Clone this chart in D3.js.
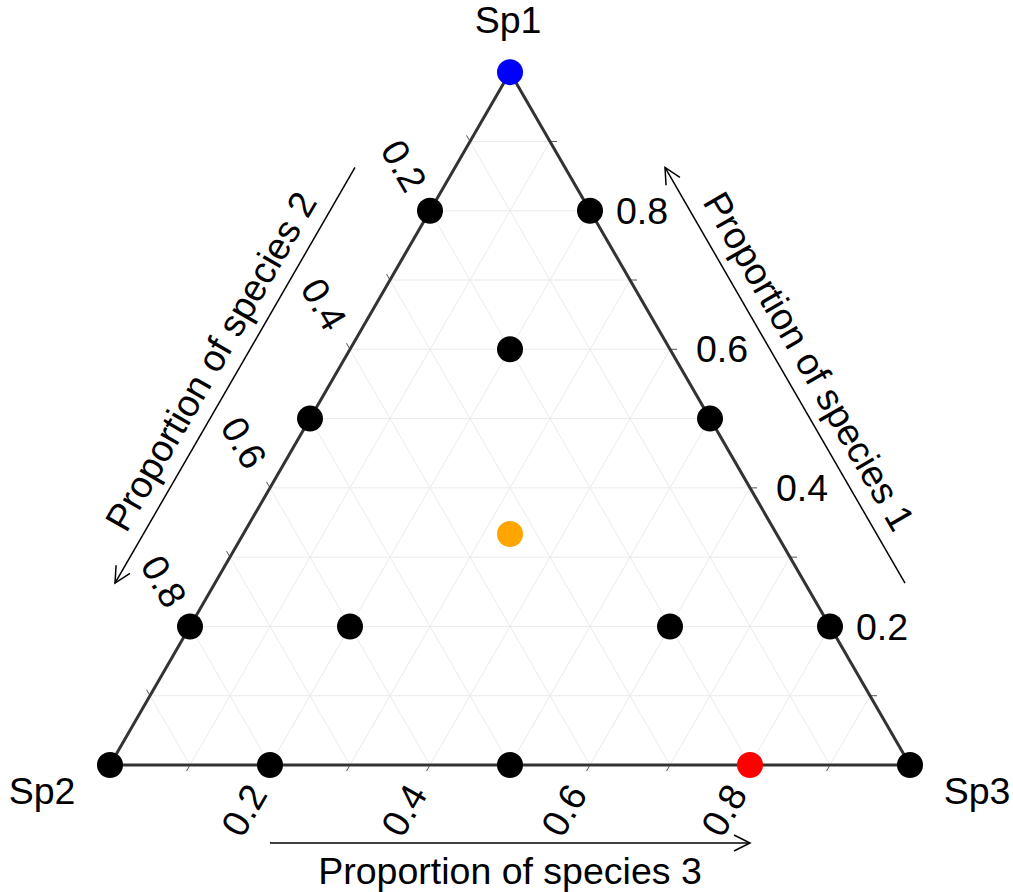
<!DOCTYPE html>
<html>
<head>
<meta charset="utf-8">
<script src="https://cdn.jsdelivr.net/npm/d3@7"></script>
<style>
  body { margin: 0; background: #fff; }
  text { font-family: "Liberation Sans", Arial, sans-serif; fill: #000; }
</style>
</head>
<body>
<svg id="chart" width="1013" height="892"></svg>
<script>
// compositions of each point (proportion of species 1, 2, 3)
var sp1 = [1, 0, 0, 0.8, 0.8, 0.6, 0.5, 0.5, 1/3, 0.2, 0.2, 0.2, 0.2, 0, 0, 0];
var sp2 = [0, 1, 0, 0.2, 0, 0.2, 0.5, 0, 1/3, 0.8, 0.6, 0.2, 0, 0.8, 0.5, 0.2];
var sp3 = [0, 0, 1, 0, 0.2, 0.2, 0, 0.5, 1/3, 0, 0.2, 0.6, 0.8, 0.2, 0.5, 0.8];
var pointColors = ["blue", "black", "black", "black", "black", "black", "black", "black",
  "orange", "black", "black", "black", "black", "black", "black", "red"];

var vertexLabels = ["Sp1", "Sp2", "Sp3"];
var axisTitles = ["Proportion of species 1", "Proportion of species 2", "Proportion of species 3"];
var gridValues = [0.1, 0.2, 0.3, 0.4, 0.5, 0.6, 0.7, 0.8, 0.9];
var tickLabels = [0.2, 0.4, 0.6, 0.8];

var svg = d3.select("#chart");

// cartesian x = p3 + p1/2, y = p1 (scaled so triangle is equilateral)
var x = d3.scaleLinear().domain([0, 1]).range([110, 910]);
var y = d3.scaleLinear().domain([0, 1]).range([765, 765 - 800 * Math.sqrt(3) / 2]);

function pt(a, b, c) {
  return [x(c + a / 2), y(a)];
}

var line = d3.line();

// grid
var grid = svg.append("g").attr("stroke", "#ebebeb").attr("stroke-width", 1).attr("fill", "none");
gridValues.forEach(function (v) {
  grid.append("path").attr("d", line([pt(v, 1 - v, 0), pt(v, 0, 1 - v)]));
  grid.append("path").attr("d", line([pt(1 - v, v, 0), pt(0, v, 1 - v)]));
  grid.append("path").attr("d", line([pt(1 - v, 0, v), pt(0, 1 - v, v)]));
});

// small tick marks outside each edge
var s = Math.sqrt(3) / 2;
var dirR = [1, 0], dirL = [-0.5, -s], dirB = [-0.5, s];
var ticks = svg.append("g").attr("stroke", "#555").attr("stroke-width", 1);
gridValues.forEach(function (v) {
  [[pt(v, 0, 1 - v), dirR], [pt(1 - v, v, 0), dirL], [pt(0, 1 - v, v), dirB]].forEach(function (t) {
    var p = t[0], d = t[1];
    ticks.append("path").attr("d", line([p, [p[0] + d[0] * 7, p[1] + d[1] * 7]]));
  });
});

// triangle border
svg.append("path")
  .attr("d", line([pt(1, 0, 0), pt(0, 1, 0), pt(0, 0, 1)]) + "Z")
  .attr("fill", "none")
  .attr("stroke", "#333")
  .attr("stroke-width", 3);

// tick labels
var gap = 26, fs = 37.5;
tickLabels.forEach(function (v) {
  var p = pt(v, 0, 1 - v);
  svg.append("text").attr("x", p[0] + gap).attr("y", p[1])
    .attr("dy", "0.35em").attr("font-size", fs).text(v);

  p = pt(1 - v, v, 0);
  svg.append("text")
    .attr("transform", "translate(" + (p[0] + dirL[0] * gap) + "," + (p[1] + dirL[1] * gap) + ") rotate(60)")
    .attr("text-anchor", "end").attr("dy", "0.35em").attr("font-size", fs).text(v);

  p = pt(0, 1 - v, v);
  svg.append("text")
    .attr("transform", "translate(" + (p[0] + dirB[0] * gap) + "," + (p[1] + dirB[1] * gap) + ") rotate(-60)")
    .attr("text-anchor", "end").attr("dy", "0.35em").attr("font-size", fs).text(v);
});

// arrow head
svg.append("defs").append("marker")
  .attr("id", "arr")
  .attr("viewBox", "0 0 20 20")
  .attr("refX", 18).attr("refY", 10)
  .attr("markerWidth", 20).attr("markerHeight", 20)
  .attr("markerUnits", "userSpaceOnUse")
  .attr("orient", "auto")
  .append("path")
  .attr("d", "M2,2 L18,10 L2,18")
  .attr("fill", "none").attr("stroke", "#000").attr("stroke-width", 1.5);

function arrowTitle(p0, p1, off, rot, label) {
  var a = [p0[0] + off[0], p0[1] + off[1]];
  var b = [p1[0] + off[0], p1[1] + off[1]];
  svg.append("path").attr("d", line([a, b]))
    .attr("stroke", "#000").attr("stroke-width", 1.5).attr("marker-end", "url(#arr)");
  var len = Math.hypot(off[0], off[1]);
  var k = (len + 28) / len;
  var mx = (p0[0] + p1[0]) / 2 + off[0] * k, my = (p0[1] + p1[1]) / 2 + off[1] * k;
  svg.append("text")
    .attr("transform", "translate(" + mx + "," + my + ") rotate(" + rot + ")")
    .attr("text-anchor", "middle").attr("dy", "0.35em").attr("font-size", fs)
    .text(label);
}

var d = 86.6;
arrowTitle(pt(0.2, 0, 0.8), pt(0.8, 0, 0.2), [d * s, -d * 0.5], 60, axisTitles[0]);
arrowTitle(pt(0.8, 0.2, 0), pt(0.2, 0.8, 0), [-d * s, -d * 0.5], -60, axisTitles[1]);
arrowTitle(pt(0, 0.8, 0.2), pt(0, 0.2, 0.8), [0, 78], 0, axisTitles[2]);

// vertex labels (baseline positions)
var v1 = pt(1, 0, 0), v2 = pt(0, 1, 0), v3 = pt(0, 0, 1);
[[v1[0] - 2, v1[1] - 39], [v2[0] - 68, v2[1] + 39], [v3[0] + 67, v3[1] + 39]].forEach(function (p, i) {
  svg.append("text").attr("x", p[0]).attr("y", p[1])
    .attr("text-anchor", "middle").attr("font-size", fs)
    .text(vertexLabels[i]);
});

// points
svg.append("g").selectAll("circle")
  .data(sp1.map(function (a, i) { return { a: a, b: sp2[i], c: sp3[i], col: pointColors[i] }; }))
  .enter().append("circle")
  .attr("cx", function (p) { return pt(p.a, p.b, p.c)[0]; })
  .attr("cy", function (p) { return pt(p.a, p.b, p.c)[1]; })
  .attr("r", 13)
  .attr("fill", function (p) { return p.col; });
</script>
</body>
</html>
